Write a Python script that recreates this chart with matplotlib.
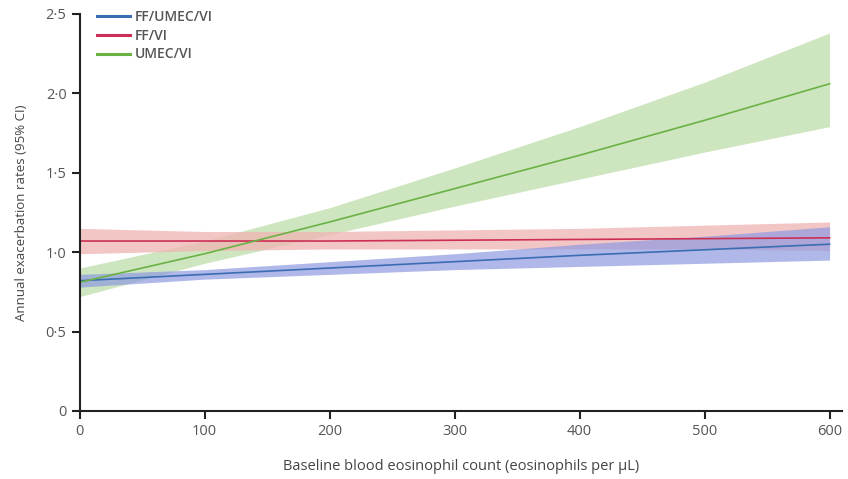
import matplotlib
matplotlib.use('Agg')
import matplotlib.pyplot as plt
import numpy as np

# data
eos = [0, 100, 200, 300, 400, 500, 600]

fumv = [0.82, 0.86, 0.90, 0.94, 0.98, 1.015, 1.05]
fumv_lo = [0.78, 0.83, 0.86, 0.89, 0.91, 0.93, 0.95]
fumv_hi = [0.86, 0.89, 0.94, 0.99, 1.05, 1.10, 1.16]

ffvi = [1.07, 1.07, 1.07, 1.075, 1.08, 1.085, 1.09]
ffvi_lo = [0.99, 1.01, 1.02, 1.02, 1.02, 1.02, 1.01]
ffvi_hi = [1.15, 1.13, 1.13, 1.14, 1.15, 1.17, 1.19]

umvi = [0.81, 0.99, 1.19, 1.40, 1.61, 1.83, 2.06]
umvi_lo = [0.72, 0.93, 1.11, 1.29, 1.46, 1.63, 1.79]
umvi_hi = [0.90, 1.07, 1.28, 1.53, 1.79, 2.07, 2.38]

labels = ['FF/UMEC/VI', 'FF/VI', 'UMEC/VI']
yticks = [0, 0.5, 1.0, 1.5, 2.0, 2.5]
ytick_labels = ['0', '0·5', '1·0', '1·5', '2·0', '2·5']
xticks = [0, 100, 200, 300, 400, 500, 600]

plt.rcParams['font.family'] = ['Open Sans', 'DejaVu Sans']

fig = plt.figure(figsize=(8.48, 4.79), dpi=100)
ax = fig.add_axes([0.094, 0.142, 0.899, 0.829])

ax.fill_between(eos, umvi_lo, umvi_hi, color='#c6e2b4', alpha=0.85, lw=0)
ax.fill_between(eos, ffvi_lo, ffvi_hi, color='#f0b4b4', alpha=0.75, lw=0)
ax.fill_between(eos, fumv_lo, fumv_hi, color='#8f9be0', alpha=0.7, lw=0)

ax.plot(eos, fumv, color='#3b6db3', lw=1.2, label=labels[0])
ax.plot(eos, ffvi, color='#cc2f55', lw=1.2, label=labels[1])
ax.plot(eos, umvi, color='#6ab244', lw=1.2, label=labels[2])

ax.set_xlim(0, 610)
ax.set_ylim(0, 2.5)
ax.set_xticks(xticks)
ax.set_yticks(yticks)
ax.set_yticklabels(ytick_labels)
ax.tick_params(axis='both', direction='out', length=6, width=1.5, colors='#222',
               labelcolor='#555', labelsize=10.5)
for s in ['top', 'right']:
    ax.spines[s].set_visible(False)
for s in ['left', 'bottom']:
    ax.spines[s].set_linewidth(1.5)
    ax.spines[s].set_color('#222')

ax.set_xlabel('Baseline blood eosinophil count (eosinophils per µL)', fontsize=10.5,
              color='#444', labelpad=14)
ax.set_ylabel('Annual exacerbation rates (95% CI)', fontsize=9.5, color='#444', labelpad=13)

leg = ax.legend(loc='upper left', bbox_to_anchor=(0.01, 1.035), frameon=False, fontsize=10,
                handlelength=2.4, handletextpad=0.3, labelspacing=0.35, borderaxespad=0.3)
for line in leg.get_lines():
    line.set_linewidth(2.2)
for t in leg.get_texts():
    t.set_color('#555')
    t.set_fontweight('semibold')

fig.savefig('out.png', dpi=100)
